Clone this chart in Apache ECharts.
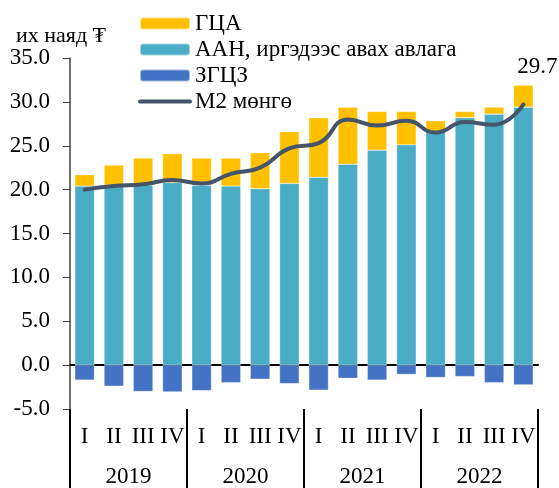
<!DOCTYPE html>
<html>
<head>
    <meta http-equiv="content-type" content="text/html;charset=utf-8">
    <script src="https://cdn.jsdelivr.net/npm/echarts@6/dist/echarts.min.js"></script>
    <style>
        html, body { margin: 0; padding: 0; background: #fff; }
        #chart { width: 559px; height: 488px; }
    </style>
</head>
<body>
<div id="chart"></div>
<script type="text/javascript">
    // ангилал
    var quarters = ['I', 'II', 'III', 'IV', 'I', 'II', 'III', 'IV', 'I', 'II', 'III', 'IV', 'I', 'II', 'III', 'IV'];
    var years = ['2019', '2020', '2021', '2022'];
    // өгөгдөл (их наяд ₮)
    var aanValues = [20.4, 20.5, 20.5, 20.8, 20.5, 20.4, 20.1, 20.7, 21.4, 22.9, 24.5, 25.1, 26.6, 28.2, 28.6, 29.4];
    var gtsaValues = [1.3, 2.3, 3.1, 3.3, 3.1, 3.2, 4.1, 5.9, 6.8, 6.5, 4.4, 3.8, 1.25, 0.7, 0.8, 2.5];
    var zgtszValues = [-1.7, -2.4, -3.0, -3.05, -2.9, -2.0, -1.6, -2.1, -2.85, -1.5, -1.7, -1.05, -1.4, -1.3, -2.0, -2.25];
    var m2Values = [20.0, 20.4, 20.6, 21.1, 20.7, 21.8, 22.5, 24.7, 25.3, 28.0, 27.3, 27.85, 26.5, 27.7, 27.4, 29.7];
    var yTicks = { min: -5, max: 35, step: 5 };

    var FONT = "'Liberation Serif', 'Times New Roman', 'DejaVu Serif', serif";
    var FS = 23;
    var chart = echarts.init(document.getElementById('chart'));

    var lastIdx = m2Values.length - 1;

    var option = {
        animation: false,
        textStyle: { fontFamily: FONT },
        title: {
            text: 'их наяд ₮',
            left: 11, top: 20,
            textStyle: { fontFamily: FONT, fontSize: 22, fontWeight: 'normal', color: '#000' }
        },
        legend: {
            orient: 'vertical',
            left: 133, top: 7,
            itemWidth: 50, itemHeight: 12, itemGap: 3,
            textStyle: { fontFamily: FONT, fontSize: FS, color: '#000' },
            data: [
                'ГЦА',
                'ААН, иргэдээс авах авлага',
                'ЗГЦЗ',
                { name: 'M2 мөнгө', itemStyle: { opacity: 0 }, lineStyle: { width: 4, color: '#44546A', cap: 'round' } }
            ]
        },
        grid: { left: 70, right: 21, top: 58, bottom: 79, containLabel: false },
        xAxis: [
            {
                type: 'category',
                data: quarters,
                axisLine: { onZero: true, lineStyle: { color: '#000', width: 2 } },
                axisTick: { show: false },
                axisLabel: { show: false },
                splitLine: { show: false }
            },
            {
                type: 'category',
                data: quarters,
                position: 'bottom',
                axisLine: { show: false, onZero: false },
                axisTick: { show: false },
                axisLabel: { margin: 16, fontFamily: FONT, fontSize: FS, color: '#000', interval: 0 }
            },
            {
                type: 'category',
                data: years,
                position: 'bottom',
                axisLine: { show: false, onZero: false },
                axisTick: { show: true, length: 79, lineStyle: { color: '#000', width: 2 } },
                axisLabel: { margin: 56, fontFamily: FONT, fontSize: FS, color: '#000', interval: 0 }
            }
        ],
        yAxis: {
            type: 'value',
            min: yTicks.min, max: yTicks.max, interval: yTicks.step,
            axisLine: { show: true, lineStyle: { color: '#404040', width: 1.5 } },
            axisTick: { show: true, length: 7, lineStyle: { color: '#404040' } },
            axisLabel: {
                margin: 20, fontFamily: FONT, fontSize: FS, color: '#000',
                formatter: function (v) { return v.toFixed(1); }
            },
            splitLine: { show: false }
        },
        series: [
            {
                name: 'ААН, иргэдээс авах авлага',
                type: 'bar', stack: 'a', barWidth: '67%',
                itemStyle: { color: '#4BACC6', borderColor: 'rgba(255,255,255,0.5)', borderWidth: 0.5 },
                data: aanValues
            },
            {
                name: 'ГЦА',
                type: 'bar', stack: 'a',
                itemStyle: { color: '#FFC000', borderColor: 'rgba(255,255,255,0.5)', borderWidth: 0.5 },
                data: gtsaValues
            },
            {
                name: 'ЗГЦЗ',
                type: 'bar', stack: 'a',
                itemStyle: { color: '#4472C4', borderColor: 'rgba(255,255,255,0.5)', borderWidth: 0.5 },
                data: zgtszValues
            },
            {
                name: 'M2 мөнгө',
                type: 'line', smooth: true, symbol: 'none',
                lineStyle: { color: '#44546A', width: 4, cap: 'round' },
                itemStyle: { color: '#44546A' },
                data: m2Values,
                markPoint: {
                    symbol: 'circle', symbolSize: 0,
                    label: {
                        show: true, position: 'top', offset: [14, -21],
                        fontFamily: FONT, fontSize: FS, color: '#000',
                        formatter: function (p) { return p.value.toFixed(1); }
                    },
                    data: [{ coord: [lastIdx, m2Values[lastIdx]], value: m2Values[lastIdx] }]
                },
                z: 5
            }
        ]
    };
    chart.setOption(option);
</script>
</body>
</html>
